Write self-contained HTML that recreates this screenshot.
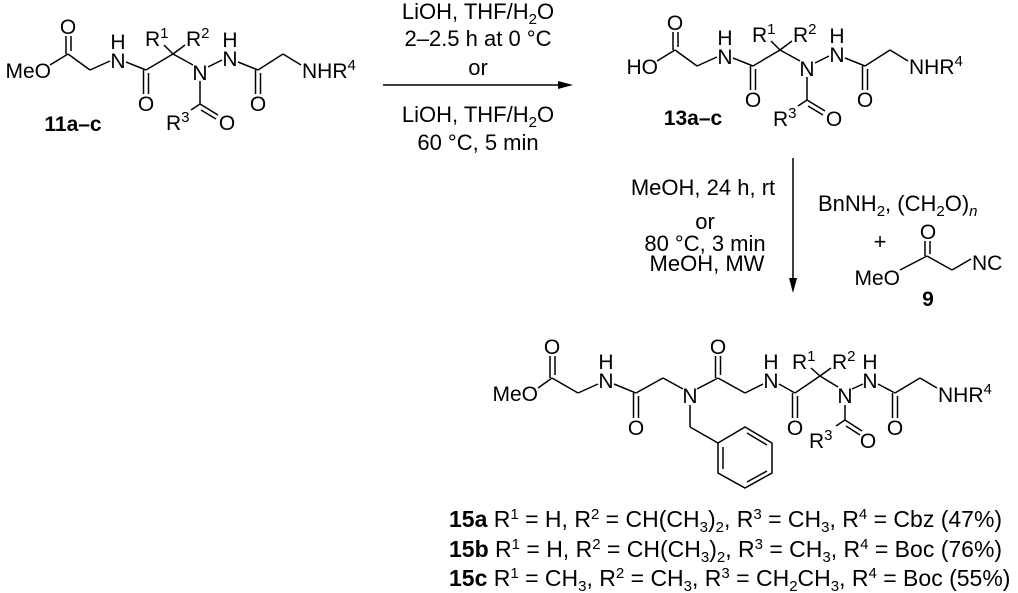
<!DOCTYPE html>
<html><head><meta charset="utf-8"><style>
html,body{margin:0;padding:0;background:#fff;}
svg{display:block;}
text{font-family:"Liberation Sans",Arial,sans-serif;font-size:21px;fill:#000;}
.t{font-size:22px;}
.u{font-size:23px;}
.b{font-weight:bold;}
.s{font-size:15px;}
line,polyline,path{stroke:#000;stroke-width:1.5;fill:none;}
</style></head><body>
<svg width="1018" height="593" viewBox="0 0 1018 593" xmlns="http://www.w3.org/2000/svg">
<defs>
<g id="core">
  <line x1="50" y1="65" x2="68" y2="54"/>
  <line x1="66" y1="54" x2="66" y2="36"/><line x1="71" y1="51" x2="71" y2="36"/>
  <line x1="68" y1="54" x2="90" y2="70"/>
  <line x1="90" y1="70" x2="110" y2="61"/>
  <line x1="126" y1="62" x2="146" y2="70"/>
  <line x1="143.5" y1="70" x2="143.5" y2="94"/><line x1="148.5" y1="73" x2="148.5" y2="94"/>
  <line x1="146" y1="70" x2="173" y2="54"/>
  <line x1="173" y1="54" x2="164" y2="45"/>
  <line x1="173" y1="54" x2="185" y2="45"/>
  <line x1="173" y1="54" x2="193" y2="65"/>
  <line x1="208" y1="67" x2="222" y2="60"/>
  <line x1="238" y1="62" x2="258" y2="70"/>
  <line x1="255.5" y1="70" x2="255.5" y2="94"/><line x1="260.5" y1="73" x2="260.5" y2="94"/>
  <line x1="258" y1="70" x2="283" y2="54"/>
  <line x1="283" y1="54" x2="301" y2="65"/>
  <line x1="200" y1="81" x2="200" y2="104"/>
  <line x1="200" y1="104" x2="218" y2="115"/><line x1="201" y1="110" x2="216" y2="119"/>
  <line x1="200" y1="104" x2="191" y2="110"/>
  <text x="68" y="34" text-anchor="middle">O</text>
  <text x="118" y="68" text-anchor="middle">N</text>
  <text x="118" y="49" text-anchor="middle">H</text>
  <text x="146" y="111" text-anchor="middle">O</text>
  <text x="145" y="46">R<tspan class="s" dy="-8">1</tspan></text>
  <text x="186" y="46">R<tspan class="s" dy="-8">2</tspan></text>
  <text x="200" y="80" text-anchor="middle">N</text>
  <text x="230" y="66" text-anchor="middle">N</text>
  <text x="230" y="47" text-anchor="middle">H</text>
  <text x="258" y="111" text-anchor="middle">O</text>
  <text x="302" y="78">NHR<tspan class="s" dy="-8">4</tspan></text>
  <text x="166" y="130">R<tspan class="s" dy="-8">3</tspan></text>
  <text x="227" y="130" text-anchor="middle">O</text>
</g>
</defs>

<use href="#core"/>
<text x="51" y="78" text-anchor="end">MeO</text>
<text class="b" x="73" y="131" text-anchor="middle">11a–c</text>

<g transform="translate(607,-4)">
<use href="#core"/>
<text x="51" y="78" text-anchor="end">HO</text>
</g>
<text class="b" x="693" y="125" text-anchor="middle">13a–c</text>

<line x1="383" y1="85" x2="562" y2="85"/>
<polygon points="573,85 558,81 558,89" fill="#000"/>
<text class="t" x="478" y="19" text-anchor="middle">LiOH, THF/H<tspan class="s" dy="5">2</tspan><tspan dy="-5">O</tspan></text>
<text class="t" x="478" y="46" text-anchor="middle">2–2.5 h at 0 °C</text>
<text class="t" x="478" y="75" text-anchor="middle">or</text>
<text class="t" x="478" y="122" text-anchor="middle">LiOH, THF/H<tspan class="s" dy="5">2</tspan><tspan dy="-5">O</tspan></text>
<text class="t" x="478" y="150" text-anchor="middle">60 °C, 5 min</text>

<line x1="793" y1="158" x2="793" y2="282"/>
<polygon points="793,293 789,278 797,278" fill="#000"/>
<text class="t" x="703" y="195" text-anchor="middle">MeOH, 24 h, rt</text>
<text class="t" x="705" y="229" text-anchor="middle">or</text>
<text class="t" x="705" y="251" text-anchor="middle">80 °C, 3 min</text>
<text class="t" x="707" y="271" text-anchor="middle">MeOH, MW</text>
<text class="t" x="818" y="211">BnNH<tspan class="s" dy="5">2</tspan><tspan dy="-5">, (CH</tspan><tspan class="s" dy="5">2</tspan><tspan dy="-5">O)</tspan><tspan font-style="italic" class="s" dy="5">n</tspan></text>
<text class="t" x="880" y="249" text-anchor="middle">+</text>
<text x="900" y="285" text-anchor="end">MeO</text>
<line x1="900" y1="270" x2="927" y2="256"/>
<line x1="925" y1="256" x2="925" y2="241"/><line x1="930" y1="254" x2="930" y2="241"/>
<text x="928" y="239" text-anchor="middle">O</text>
<line x1="927" y1="256" x2="952" y2="270"/>
<line x1="952" y1="270" x2="971" y2="259"/>
<text x="972" y="270">NC</text>
<text class="b" x="928" y="306" text-anchor="middle">9</text>

<text x="538" y="401" text-anchor="end">MeO</text>
<line x1="538" y1="388" x2="552" y2="378"/>
<line x1="550" y1="378" x2="550" y2="356"/><line x1="555" y1="375" x2="555" y2="356"/>
<text x="552" y="354" text-anchor="middle">O</text>
<line x1="552" y1="378" x2="578" y2="393"/>
<line x1="578" y1="393" x2="598" y2="384"/>
<text x="606" y="388" text-anchor="middle">N</text>
<text x="606" y="369" text-anchor="middle">H</text>
<line x1="614" y1="384" x2="636" y2="393"/>
<line x1="633.5" y1="393" x2="633.5" y2="418"/><line x1="638.5" y1="396" x2="638.5" y2="418"/>
<text x="636" y="435" text-anchor="middle">O</text>
<line x1="636" y1="393" x2="663" y2="378"/>
<line x1="663" y1="378" x2="683" y2="389"/>
<text x="690" y="403" text-anchor="middle">N</text>
<line x1="697" y1="389" x2="718" y2="378"/>
<line x1="715.5" y1="378" x2="715.5" y2="356"/><line x1="720.5" y1="375" x2="720.5" y2="356"/>
<text x="718" y="354" text-anchor="middle">O</text>
<line x1="718" y1="378" x2="745" y2="393"/>
<line x1="745" y1="393" x2="763" y2="384"/>
<text x="771" y="388" text-anchor="middle">N</text>
<text x="771" y="369" text-anchor="middle">H</text>
<line x1="779" y1="384" x2="795" y2="393"/>
<line x1="792.5" y1="393" x2="792.5" y2="418"/><line x1="797.5" y1="396" x2="797.5" y2="418"/>
<text x="795" y="435" text-anchor="middle">O</text>
<line x1="795" y1="393" x2="820" y2="376"/>
<line x1="820" y1="376" x2="811" y2="368"/>
<line x1="820" y1="376" x2="831" y2="368"/>
<text x="792" y="369">R<tspan class="s" dy="-8">1</tspan></text>
<text x="832" y="369">R<tspan class="s" dy="-8">2</tspan></text>
<line x1="820" y1="376" x2="838" y2="387"/>
<text x="845" y="403" text-anchor="middle">N</text>
<line x1="852" y1="389" x2="863" y2="384"/>
<text x="870" y="388" text-anchor="middle">N</text>
<text x="870" y="369" text-anchor="middle">H</text>
<line x1="878" y1="384" x2="895" y2="393"/>
<line x1="892.5" y1="393" x2="892.5" y2="418"/><line x1="897.5" y1="396" x2="897.5" y2="418"/>
<text x="895" y="435" text-anchor="middle">O</text>
<line x1="895" y1="393" x2="920" y2="378"/>
<line x1="920" y1="378" x2="937" y2="388"/>
<text x="938" y="402">NHR<tspan class="s" dy="-8">4</tspan></text>
<line x1="845" y1="405" x2="845" y2="420"/>
<line x1="845" y1="420" x2="862" y2="431"/><line x1="846" y1="426" x2="860" y2="435"/>
<line x1="845" y1="420" x2="836" y2="426"/>
<text x="868" y="448" text-anchor="middle">O</text>
<text x="809" y="448">R<tspan class="s" dy="-8">3</tspan></text>
<line x1="690" y1="405" x2="690" y2="427"/>
<line x1="690" y1="427" x2="718" y2="443"/>
<polygon points="718,443 745,427 772,443 772,473 745,488 718,473" style="stroke:#000;stroke-width:1.5;fill:none"/>
<line x1="723" y1="447" x2="723" y2="469"/>
<line x1="747" y1="433" x2="767" y2="445"/>
<line x1="767" y1="471" x2="747" y2="482"/>

<text class="u" x="449" y="527"><tspan class="b">15a</tspan> R<tspan class="s" dy="-8">1</tspan><tspan dy="8"> = H, R</tspan><tspan class="s" dy="-8">2</tspan><tspan dy="8"> = CH(CH</tspan><tspan class="s" dy="5">3</tspan><tspan dy="-5">)</tspan><tspan class="s" dy="5">2</tspan><tspan dy="-5">, R</tspan><tspan class="s" dy="-8">3</tspan><tspan dy="8"> = CH</tspan><tspan class="s" dy="5">3</tspan><tspan dy="-5">, R</tspan><tspan class="s" dy="-8">4</tspan><tspan dy="8"> = Cbz (47%)</tspan></text>
<text class="u" x="449" y="557"><tspan class="b">15b</tspan> R<tspan class="s" dy="-8">1</tspan><tspan dy="8"> = H, R</tspan><tspan class="s" dy="-8">2</tspan><tspan dy="8"> = CH(CH</tspan><tspan class="s" dy="5">3</tspan><tspan dy="-5">)</tspan><tspan class="s" dy="5">2</tspan><tspan dy="-5">, R</tspan><tspan class="s" dy="-8">3</tspan><tspan dy="8"> = CH</tspan><tspan class="s" dy="5">3</tspan><tspan dy="-5">, R</tspan><tspan class="s" dy="-8">4</tspan><tspan dy="8"> = Boc (76%)</tspan></text>
<text class="u" x="449" y="586"><tspan class="b">15c</tspan> R<tspan class="s" dy="-8">1</tspan><tspan dy="8"> = CH</tspan><tspan class="s" dy="5">3</tspan><tspan dy="-5">, R</tspan><tspan class="s" dy="-8">2</tspan><tspan dy="8"> = CH</tspan><tspan class="s" dy="5">3</tspan><tspan dy="-5">,  R</tspan><tspan class="s" dy="-8">3</tspan><tspan dy="8"> = CH</tspan><tspan class="s" dy="5">2</tspan><tspan dy="-5">CH</tspan><tspan class="s" dy="5">3</tspan><tspan dy="-5">, R</tspan><tspan class="s" dy="-8">4</tspan><tspan dy="8"> = Boc (55%)</tspan></text>
</svg>
</body></html>
